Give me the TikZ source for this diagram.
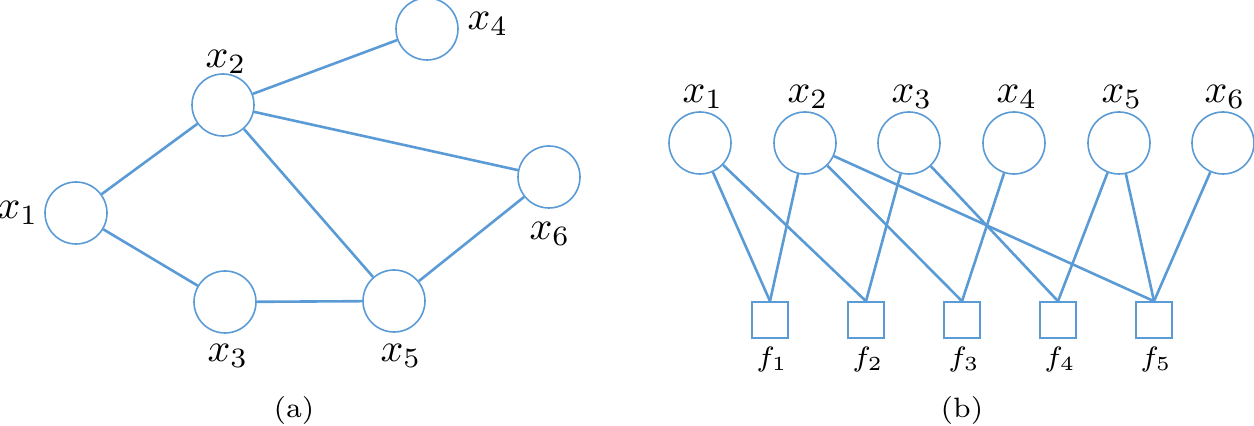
\documentclass[tikz,border=0pt]{standalone}
\usepackage{amsmath}
\usepackage{tikz}
\definecolor{graphblue}{RGB}{91,155,213}

\begin{document}
\begin{tikzpicture}[x=0.25pt, y=-0.25pt,
    var/.style={draw=graphblue, line width=0.4pt, circle, minimum size=15.5pt, inner sep=0pt},
    fac/.style={draw=graphblue, line width=0.4pt, rectangle, minimum size=9pt, inner sep=0pt},
    link/.style={draw=graphblue, line width=0.65pt}]
  \useasboundingbox (0,0) rectangle (1254,426);

  % (a) undirected graph
  \node[var] (a1) at (76,213) {};  \node (la1) at (18,213) {$x_1$};
  \node[var] (a2) at (223,105) {}; \node (la2) at (226,62) {$x_2$};
  \node[var] (a3) at (225,302) {}; \node (la3) at (228,356) {$x_3$};
  \node[var] (a4) at (427,29) {};  \node (la4) at (488,24) {$x_4$};
  \node[var] (a5) at (394,301) {}; \node (la5) at (401,356) {$x_5$};
  \node[var] (a6) at (549,177) {}; \node (la6) at (550,234) {$x_6$};

  \draw[link] (a1) -- (a2);
  \draw[link] (a1) -- (a3);
  \draw[link] (a2) -- (a4);
  \draw[link] (a2) -- (a6);
  \draw[link] (a2) -- (a5);
  \draw[link] (a3) -- (a5);
  \draw[link] (a5) -- (a6);

  \node[font=\scriptsize] (capa) at (294,410) {(a)};

  % (b) factor graph
  \node[var] (b1) at (700,143) {};  \node (lb1) at (703,97) {$x_1$};
  \node[var] (b2) at (805,143) {};  \node (lb2) at (808,97) {$x_2$};
  \node[var] (b3) at (909,143) {};  \node (lb3) at (912,97) {$x_3$};
  \node[var] (b4) at (1014,143) {}; \node (lb4) at (1017,97) {$x_4$};
  \node[var] (b5) at (1119,143) {}; \node (lb5) at (1122,97) {$x_5$};
  \node[var] (b6) at (1223,143) {}; \node (lb6) at (1225,97) {$x_6$};

  \node[fac] (f1) at (770,320) {};  \node[font=\scriptsize] (lf1) at (772,360) {$f_1$};
  \node[fac] (f2) at (866,320) {};  \node[font=\scriptsize] (lf2) at (868,360) {$f_2$};
  \node[fac] (f3) at (962,320) {};  \node[font=\scriptsize] (lf3) at (964,360) {$f_3$};
  \node[fac] (f4) at (1058,320) {}; \node[font=\scriptsize] (lf4) at (1060,360) {$f_4$};
  \node[fac] (f5) at (1154,320) {}; \node[font=\scriptsize] (lf5) at (1156,360) {$f_5$};

  \draw[link] (b1) -- (f1.north);
  \draw[link] (b1) -- (f2.north);
  \draw[link] (b2) -- (f1.north);
  \draw[link] (b2) -- (f3.north);
  \draw[link] (b2) -- (f5.north);
  \draw[link] (b3) -- (f2.north);
  \draw[link] (b3) -- (f4.north);
  \draw[link] (b4) -- (f3.north);
  \draw[link] (b5) -- (f4.north);
  \draw[link] (b5) -- (f5.north);
  \draw[link] (b6) -- (f5.north);

  \node[font=\scriptsize] (capb) at (962,410) {(b)};
\end{tikzpicture}
\end{document}
